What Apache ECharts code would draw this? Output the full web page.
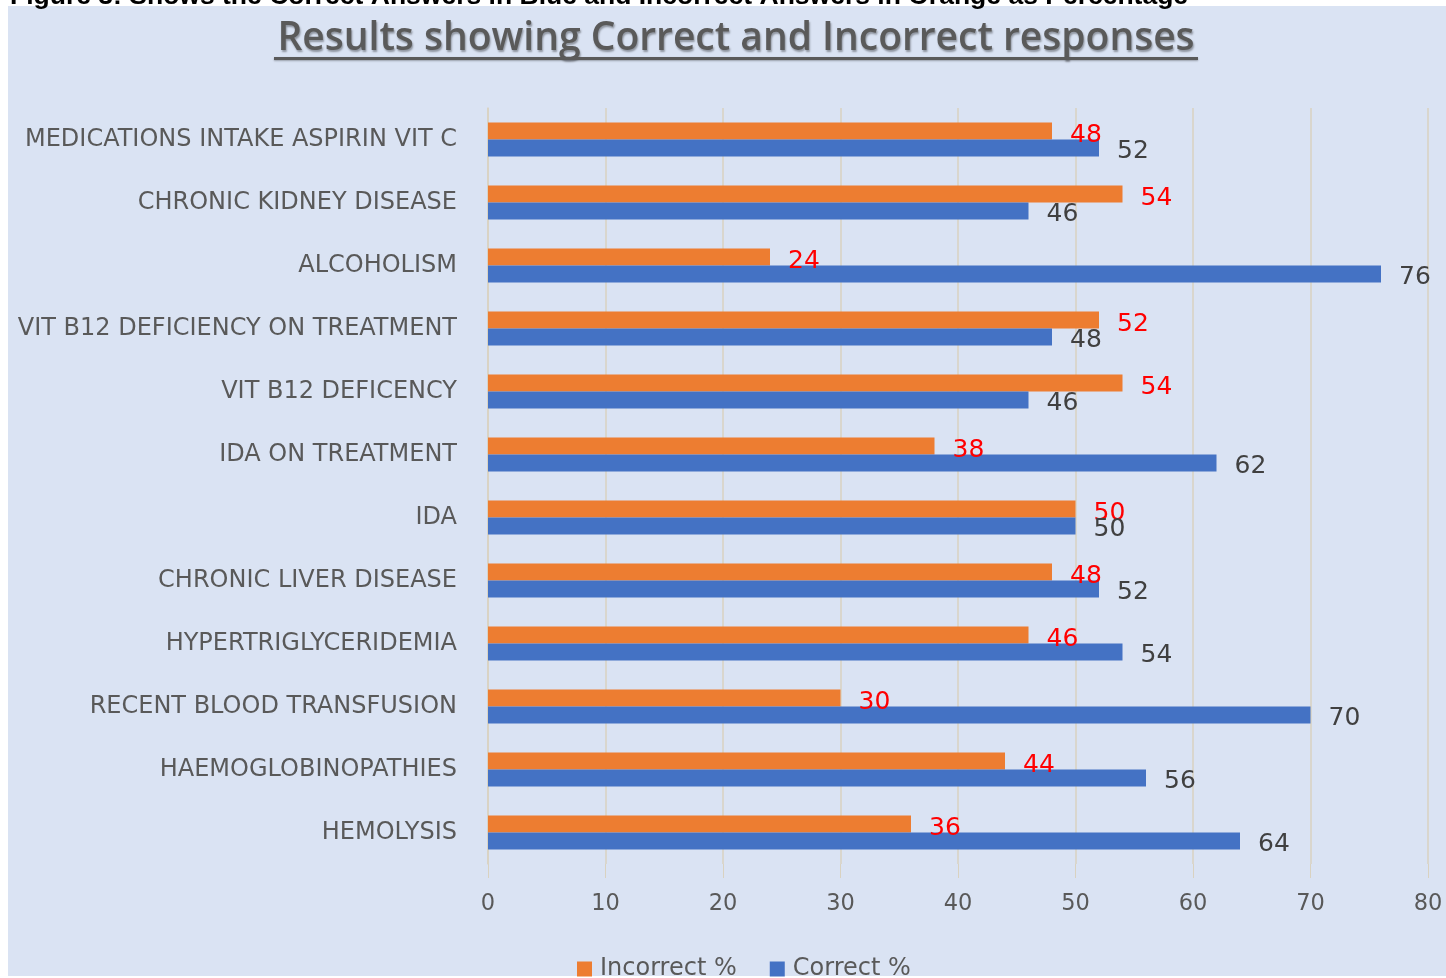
<!DOCTYPE html>
<html>
<head>
<meta charset="utf-8">
<script src="https://cdn.jsdelivr.net/npm/echarts@6/dist/echarts.min.js"></script>
<style>
  html, body { margin: 0; padding: 0; background: #ffffff; }
  #chart { width: 1446px; height: 978px; }
</style>
</head>
<body>
<div id="chart"></div>
<script>
// Conditions, listed bottom-to-top as they stack on the category axis
const categories = [
  'HEMOLYSIS',
  'HAEMOGLOBINOPATHIES',
  'RECENT BLOOD TRANSFUSION',
  'HYPERTRIGLYCERIDEMIA',
  'CHRONIC LIVER DISEASE',
  'IDA',
  'IDA ON TREATMENT',
  'VIT B12 DEFICENCY',
  'VIT B12 DEFICIENCY ON TREATMENT',
  'ALCOHOLISM',
  'CHRONIC KIDNEY DISEASE',
  'MEDICATIONS INTAKE ASPIRIN VIT C'
];
const correctPct   = [64, 56, 70, 54, 52, 50, 62, 46, 48, 76, 46, 52];
const incorrectPct = [36, 44, 30, 46, 48, 50, 38, 54, 52, 24, 54, 48];
const xTicks = [0, 10, 20, 30, 40, 50, 60, 70, 80];

const FONT = '"DejaVu Sans", sans-serif';
const GRID_COLOR = '#d9d2c0';
const TEXT_GRAY = '#595959';

const chart = echarts.init(document.getElementById('chart'), null, { renderer: 'canvas' });

chart.setOption({
  backgroundColor: '#ffffff',
  animation: false,
  graphic: [
    {
      type: 'rect', z: -10, silent: true,
      shape: { x: 8, y: 6, width: 1438, height: 970 },
      style: { fill: '#dae3f3' }
    },
    {
      type: 'text', silent: true,
      style: {
        x: 10, y: -17,
        text: 'Figure 3: Shows the Correct Answers in Blue and Incorrect Answers in Orange as Percentage',
        font: 'bold 26.5px "Liberation Sans", Arial, sans-serif',
        fill: '#000000', verticalAlign: 'top'
      }
    },
    {
      type: 'text', silent: true,
      style: {
        x: 736, y: 39,
        text: 'Results showing Correct and Incorrect responses',
        font: '600 39px "Open Sans", sans-serif',
        fill: '#5a5a5a', align: 'center', verticalAlign: 'middle',
        textShadowColor: 'rgba(0,0,0,0.35)', textShadowBlur: 2,
        textShadowOffsetX: 1, textShadowOffsetY: 2
      }
    },
    {
      type: 'rect', silent: true,
      shape: { x: 274, y: 57, width: 924, height: 3 },
      style: { fill: '#5a5a5a', shadowColor: 'rgba(0,0,0,0.3)', shadowBlur: 2, shadowOffsetY: 1 }
    }
  ],
  legend: {
    bottom: -8,
    left: 572,
    itemGap: 33,
    itemWidth: 15,
    itemHeight: 15,
    icon: 'rect',
    data: ['Incorrect %', 'Correct %'],
    textStyle: { fontFamily: FONT, fontSize: 24, color: TEXT_GRAY, padding: [0, 0, 0, 3] }
  },
  grid: {
    left: 488, right: 18, top: 108, bottom: 114,
    containLabel: false
  },
  xAxis: {
    type: 'value',
    min: 0, max: 80, interval: 10,
    axisLine: { show: false },
    axisTick: { show: true, length: 14, lineStyle: { color: GRID_COLOR } },
    splitLine: { show: true, lineStyle: { color: GRID_COLOR, width: 1.5 } },
    axisLabel: {
      margin: 29, fontFamily: FONT, fontSize: 22.5, color: TEXT_GRAY,
      formatter: v => (xTicks.includes(v) ? String(v) : '')
    }
  },
  yAxis: {
    type: 'category',
    data: categories,
    axisLine: { show: true, lineStyle: { color: GRID_COLOR, width: 1.5 } },
    axisTick: { show: false },
    axisLabel: {
      margin: 31, fontFamily: FONT, fontSize: 24, color: TEXT_GRAY
    }
  },
  series: [
    {
      name: 'Incorrect %',
      type: 'bar',
      data: incorrectPct,
      barWidth: 17,
      barGap: '0%',
      itemStyle: { color: '#ed7d31' },
      label: {
        show: true, position: 'right', distance: 18, offset: [0, 4],
        fontFamily: FONT, fontSize: 25, color: '#ff0000'
      }
    },
    {
      name: 'Correct %',
      type: 'bar',
      data: correctPct,
      barWidth: 17,
      barGap: '0%',
      itemStyle: { color: '#4472c4' },
      label: {
        show: true, position: 'right', distance: 18, offset: [0, 3],
        fontFamily: FONT, fontSize: 25, color: '#404040'
      }
    }
  ]
});
</script>
</body>
</html>
